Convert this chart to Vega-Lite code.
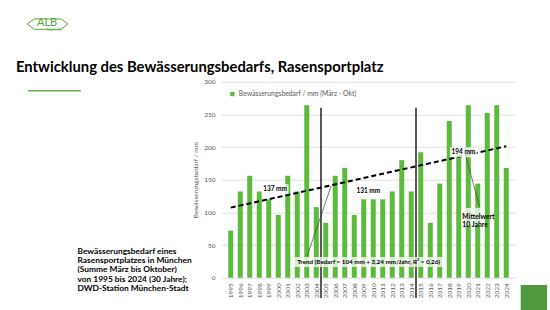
{
  "$schema": "https://vega.github.io/schema/vega-lite/v6.json",
  "width": 295,
  "height": 196,
  "autosize": "none",
  "padding": {"left": 221, "top": 81.7, "right": 34, "bottom": 32.3},
  "background": "white",
  "config": {"view": {"stroke": null}, "font": "Lato"},
  "title": {
    "text": "Entwicklung des Bewässerungsbedarfs, Rasensportplatz",
    "anchor": "start",
    "frame": "group",
    "dx": -205,
    "dy": 75.7,
    "offset": 6,
    "baseline": "alphabetic",
    "fontSize": 14.8,
    "fontWeight": "bold",
    "color": "#000000"
  },
  "datasets": {
    "bedarf": [
      {"year": 1995, "mm": 72}, {"year": 1996, "mm": 132}, {"year": 1997, "mm": 156},
      {"year": 1998, "mm": 132}, {"year": 1999, "mm": 120}, {"year": 2000, "mm": 96},
      {"year": 2001, "mm": 156}, {"year": 2002, "mm": 132}, {"year": 2003, "mm": 264},
      {"year": 2004, "mm": 108}, {"year": 2005, "mm": 84}, {"year": 2006, "mm": 156},
      {"year": 2007, "mm": 168}, {"year": 2008, "mm": 96}, {"year": 2009, "mm": 120},
      {"year": 2010, "mm": 120}, {"year": 2011, "mm": 120}, {"year": 2012, "mm": 132},
      {"year": 2013, "mm": 180}, {"year": 2014, "mm": 132}, {"year": 2015, "mm": 192},
      {"year": 2016, "mm": 84}, {"year": 2017, "mm": 144}, {"year": 2018, "mm": 240},
      {"year": 2019, "mm": 190}, {"year": 2020, "mm": 264}, {"year": 2021, "mm": 144},
      {"year": 2022, "mm": 252}, {"year": 2023, "mm": 264}, {"year": 2024, "mm": 168}
    ],
    "trend": [
      {"year": 1995, "mm": 107.24},
      {"year": 2024, "mm": 201.2}
    ],
    "breaks": [
      {"year": 2004.5, "mm": 260, "mm2": -31},
      {"year": 2014.5, "mm": 260, "mm2": -31}
    ],
    "leaders": [
      {"year": 2003.04, "mm": 33.2, "year2": 2005.58, "mm2": 140.8},
      {"year": 2021.19, "mm": 108.7, "year2": 2019.67, "mm2": 190.4}
    ],
    "notes": [
      {"kind": "mean", "label": "137 mm", "year": 1999.66, "mm": 135.5},
      {"kind": "mean", "label": "131 mm", "year": 2009.48, "mm": 133.2},
      {"kind": "mean", "label": "194 mm", "year": 2019.49, "mm": 191.9},
      {"kind": "trend", "label": "Trend (Bedarf = 104 mm + 3,24 mm/Jahr, R² = 0,26)", "year": 2009.51, "mm": 24.0},
      {"kind": "note", "label": "Mittelwert\n10 Jahre", "year": 2019.38, "mm": 93.4}
    ],
    "logo": [
      {"part": "frame", "label": "", "year": 1975.72, "mm": 388.3},
      {"part": "name", "label": "ALB", "year": 1975.67, "mm": 389.4},
      {"part": "region", "label": "Bayern e.V.", "year": 1976.43, "mm": 379.9}
    ],
    "strokes": [
      {"part": "underline", "year": 1973.65, "year2": 1979.22, "mm": 286.2, "mm2": 286.2},
      {"part": "corner", "year": 2025.52, "year2": 2028.3, "mm": -11.2, "mm2": -53}
    ]
  },
  "encoding": {
    "x": {
      "field": "year",
      "type": "quantitative",
      "scale": {"domain": [1994.5, 2024.5], "nice": false, "zero": false},
      "axis": {
        "values": [1995, 1996, 1997, 1998, 1999, 2000, 2001, 2002, 2003, 2004, 2005, 2006, 2007, 2008, 2009, 2010, 2011, 2012, 2013, 2014, 2015, 2016, 2017, 2018, 2019, 2020, 2021, 2022, 2023, 2024],
        "format": "d",
        "labelAngle": -90,
        "labelFontSize": 6.5,
        "labelColor": "#595959",
        "labelPadding": 5,
        "labelOverlap": false,
        "labelFlush": false,
        "ticks": false,
        "domain": false,
        "grid": false,
        "title": ["Bewässerungsbedarf eines", "Rasensportplatzes in München", "(Summe März bis Oktober)", "von 1995 bis 2024 (30 Jahre);", "DWD-Station München-Stadt"],
        "titleX": -144,
        "titleY": -24.6,
        "titleAngle": 0,
        "titleAlign": "left",
        "titleAnchor": null,
        "titleBaseline": "alphabetic",
        "titleFontSize": 8.4,
        "titleFontWeight": "bold",
        "titleColor": "#000000",
        "titleLineHeight": 9.4
      }
    },
    "y": {
      "field": "mm",
      "type": "quantitative",
      "scale": {"domain": [0, 300], "nice": false},
      "axis": {
        "values": [0, 50, 100, 150, 200, 250, 300],
        "labelFontSize": 6.5,
        "labelColor": "#595959",
        "labelPadding": 6,
        "ticks": false,
        "domain": false,
        "gridColor": "#d9d9d9",
        "gridWidth": 0.8,
        "title": "Bewässerungsbedarf / mm",
        "titleFontSize": 6.5,
        "titleFontWeight": "normal",
        "titleColor": "#595959",
        "titlePadding": 5
      }
    }
  },
  "layer": [
    {
      "data": {"name": "bedarf"},
      "mark": {"type": "bar", "width": 5},
      "encoding": {
        "color": {
          "datum": "Bewässerungsbedarf / mm (März - Okt)",
          "scale": {"range": ["#5cba3c"]},
          "legend": {
            "orient": "none",
            "legendX": 8,
            "legendY": 9,
            "title": null,
            "symbolType": "square",
            "symbolSize": 18,
            "labelFontSize": 6.8,
            "labelColor": "#595959",
            "labelOffset": 3
          }
        }
      }
    },
    {
      "data": {"name": "trend"},
      "mark": {"type": "line", "color": "#000000", "strokeWidth": 2, "strokeDash": [5, 3]}
    },
    {
      "data": {"name": "breaks"},
      "mark": {"type": "rule", "color": "#000000", "strokeWidth": 1.3},
      "encoding": {"y2": {"field": "mm2"}}
    },
    {
      "data": {"name": "leaders"},
      "mark": {"type": "rule", "color": "#404040", "strokeWidth": 0.7},
      "encoding": {"x2": {"field": "year2"}, "y2": {"field": "mm2"}}
    },
    {
      "data": {"name": "notes"},
      "transform": [{"filter": "datum.kind === 'mean'"}],
      "mark": {"type": "point", "shape": "M-1,-0.37H1V0.37H-1Z", "size": 729, "filled": true, "color": "#ffffff", "opacity": 0.8, "strokeWidth": 0}
    },
    {
      "data": {"name": "notes"},
      "transform": [{"filter": "datum.kind === 'trend'"}],
      "mark": {"type": "point", "shape": "M-1,-0.068H1V0.068H-1Z", "size": 22201, "filled": true, "color": "#ffffff", "opacity": 0.75, "strokeWidth": 0}
    },
    {
      "data": {"name": "notes"},
      "transform": [{"filter": "datum.kind === 'note'"}],
      "mark": {"type": "point", "shape": "M-0.12,-0.73H1.88V0.73H-0.12Z", "size": 576, "filled": true, "color": "#ffffff", "opacity": 0.75, "strokeWidth": 0}
    },
    {
      "data": {"name": "notes"},
      "transform": [{"filter": "datum.kind === 'mean'"}],
      "mark": {"type": "text", "fontSize": 6.5, "fontWeight": "bold", "color": "#000000", "align": "center", "baseline": "middle"},
      "encoding": {"text": {"field": "label"}}
    },
    {
      "data": {"name": "notes"},
      "transform": [{"filter": "datum.kind === 'trend'"}],
      "mark": {"type": "text", "fontSize": 6.3, "fontWeight": "bold", "color": "#000000", "align": "center", "baseline": "middle"},
      "encoding": {"text": {"field": "label"}}
    },
    {
      "data": {"name": "notes"},
      "transform": [{"filter": "datum.kind === 'note'"}],
      "mark": {"type": "text", "fontSize": 6.8, "fontWeight": "bold", "color": "#000000", "align": "left", "baseline": "middle", "lineBreak": "\n", "lineHeight": 8.7},
      "encoding": {"text": {"field": "label"}}
    },
    {
      "data": {"name": "logo"},
      "transform": [{"filter": "datum.part === 'frame'"}],
      "mark": {"type": "point", "shape": "M-1,0L-0.65,-0.25L0.66,-0.25L1,0L0.66,0.26L-0.65,0.26Z", "size": 1656, "filled": false, "color": "#5aa63c", "strokeWidth": 1, "opacity": 1}
    },
    {
      "data": {"name": "logo"},
      "transform": [{"filter": "datum.part === 'name'"}],
      "mark": {"type": "text", "fontSize": 11, "color": "#5aa63c", "align": "center", "baseline": "middle"},
      "encoding": {"text": {"field": "label"}}
    },
    {
      "data": {"name": "logo"},
      "transform": [{"filter": "datum.part === 'region'"}],
      "mark": {"type": "text", "fontSize": 3, "color": "#5aa63c", "align": "center", "baseline": "middle"},
      "encoding": {"text": {"field": "label"}}
    },
    {
      "data": {"name": "strokes"},
      "transform": [{"filter": "datum.part === 'underline'"}],
      "mark": {"type": "rule", "color": "#6ab04c", "strokeWidth": 1.5},
      "encoding": {"x2": {"field": "year2"}, "y2": {"field": "mm2"}}
    },
    {
      "data": {"name": "strokes"},
      "transform": [{"filter": "datum.part === 'corner'"}],
      "mark": {"type": "rect", "color": "#4f9a3e"},
      "encoding": {"x2": {"field": "year2"}, "y2": {"field": "mm2"}}
    }
  ]
}
